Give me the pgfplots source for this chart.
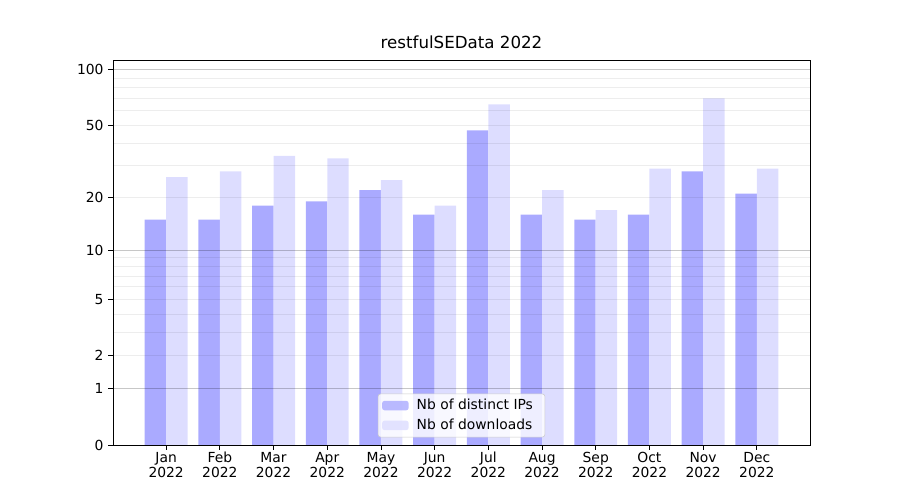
\documentclass[border=0pt]{standalone}
\usepackage{fontspec}
\setmainfont{DejaVu Sans}
\usepackage{pgfplots}
\pgfplotsset{compat=1.18}
\definecolor{ipcol}{HTML}{AAAAFF}
\definecolor{dlcol}{HTML}{DDDDFF}
\begin{document}
\begin{tikzpicture}[x=1pt,y=1pt]
\path (0,0) rectangle (675,375);
\begin{axis}[
  at={(84.75pt,41.25pt)}, anchor=south west,
  scale only axis, width=522.75pt, height=288.75pt,
  y coord trafo/.code={\pgfmathparse{log10(#1+1)}},
  y coord inv trafo/.code={\pgfmathparse{10^(#1)-1}},
  ymin=0, ymax=113,
  xmin=-0.99, xmax=11.99,
  axis on top,
  axis line style={line width=0.6pt},
  every tick/.style={line width=0.6pt, black},
  tick align=outside, tick pos=left,
  major tick length=3.6pt,
  minor tick length=0pt,
  ytick={0,1,2,5,10,20,50,100},
  yticklabels={0,1,2,5,10,20,50,100},
  minor ytick={3,4,6,7,8,9,30,40,60,70,80,90,2,5,20,50},
  yminorgrids,
  minor grid style={black, opacity=0.07, line width=0.6pt},
  extra y ticks={1,10,100},
  extra y tick labels={},
  extra y tick style={grid=major, major tick length=0pt},
  major grid style={black, opacity=0.22, line width=0.6pt},
  xtick={0,1,2,3,4,5,6,7,8,9,10,11},
  xticklabels={{\strut Jan\\2022},{\strut Feb\\2022},{\strut Mar\\2022},{\strut Apr\\2022},{\strut May\\2022},{\strut Jun\\2022},{\strut Jul\\2022},{\strut Aug\\2022},{\strut Sep\\2022},{\strut Oct\\2022},{\strut Nov\\2022},{\strut Dec\\2022}},
  xticklabel style={align=center, font=\fontsize{10.4}{11.5}\selectfont, inner ysep=1pt},
  yticklabel style={font=\fontsize{10.4}{12}\selectfont},
  /pgf/number format/assume math mode=true,
  title={restfulSEData 2022},
  title style={font=\fontsize{12.5}{14}\selectfont, yshift=-1pt},
  legend style={at={(0.5,0.02)}, anchor=south, draw=black!20, rounded corners=2pt,
    fill=white, fill opacity=0.8, text opacity=1, font=\fontsize{10.4}{12}\selectfont,
    row sep=1.5pt, inner xsep=3pt, inner ysep=2pt,
    nodes={inner xsep=6pt, inner ysep=2pt}},
  legend cell align=left,
  legend image code/.code={\fill[#1] (0pt,-3.6pt) rectangle (20pt,3.6pt);},
]
\addplot[ybar, bar width=0.4, bar shift=-0.2, fill=ipcol, draw=none] coordinates {
 (0,15) (1,15) (2,18) (3,19) (4,22) (5,16) (6,47) (7,16) (8,15) (9,16) (10,28) (11,21)};
\addlegendentry{Nb of distinct IPs}
\addplot[ybar, bar width=0.4, bar shift=0.2, fill=dlcol, draw=none] coordinates {
 (0,26) (1,28) (2,34) (3,33) (4,25) (5,18) (6,65) (7,22) (8,17) (9,29) (10,70) (11,29)};
\addlegendentry{Nb of downloads}
\end{axis}
\end{tikzpicture}
\end{document}
